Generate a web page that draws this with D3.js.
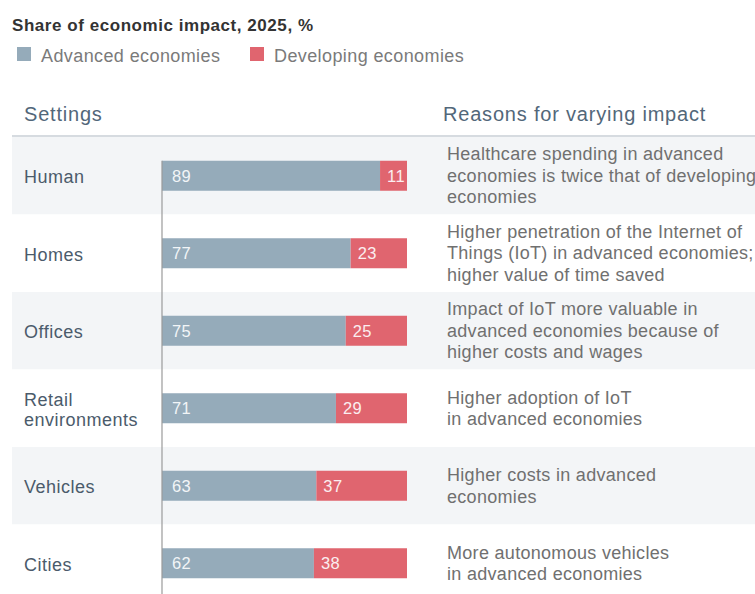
<!DOCTYPE html>
<html>
<head>
<meta charset="utf-8">
<script src="https://cdn.jsdelivr.net/npm/d3@7"></script>
<style>
  html, body { margin: 0; padding: 0; background: #ffffff; }
  svg { display: block; font-family: "Liberation Sans", Arial, Helvetica, sans-serif; }
</style>
</head>
<body>
<svg id="chart" width="755" height="594"></svg>
<script>
// Settings shown as rows (multi-line labels split by "|")
const settings = ["Human", "Homes", "Offices", "Retail|environments", "Vehicles", "Cities"];
// Share of economic impact in 2025, %
const advanced = [89, 77, 75, 71, 63, 62];
const developing = [11, 23, 25, 29, 37, 38];
// Explanation for each setting (lines split by "|")
const reasons = [
  "Healthcare spending in advanced|economies is twice that of developing|economies",
  "Higher penetration of the Internet of|Things (IoT) in advanced economies;|higher value of time saved",
  "Impact of IoT more valuable in|advanced economies because of|higher costs and wages",
  "Higher adoption of IoT|in advanced economies",
  "Higher costs in advanced|economies",
  "More autonomous vehicles|in advanced economies"
];
const seriesNames = ["Advanced economies", "Developing economies"];
const colors = ["#95abba", "#e0656f"];

const W = 755;
const svg = d3.select("#chart");

// Scales
const y = d3.scaleBand().domain(settings).range([137, 602]).padding(0);
const x = d3.scaleLinear().domain([0, 100]).range([162, 407]);
const barH = 30;

// Title
svg.append("text")
  .attr("x", 12).attr("y", 30.5)
  .attr("font-size", 17).attr("font-weight", "bold")
  .attr("letter-spacing", 0.55)
  .attr("fill", "#333333")
  .text("Share of economic impact, 2025, %");

// Legend
const legendX = [17, 250];
seriesNames.forEach((name, i) => {
  svg.append("rect")
    .attr("x", legendX[i]).attr("y", 47)
    .attr("width", 14).attr("height", 14)
    .attr("fill", colors[i]);
  svg.append("text")
    .attr("x", legendX[i] + 24).attr("y", 61.5)
    .attr("font-size", 18).attr("letter-spacing", 0.4)
    .attr("fill", "#7a7a7a")
    .text(name);
});

// Column headers
svg.append("text")
  .attr("x", 24).attr("y", 120.5)
  .attr("font-size", 20).attr("letter-spacing", 0.8)
  .attr("fill", "#52677a")
  .text("Settings");
svg.append("text")
  .attr("x", 443).attr("y", 120.5)
  .attr("font-size", 20).attr("letter-spacing", 0.8)
  .attr("fill", "#52677a")
  .text("Reasons for varying impact");

// Alternating row bands
svg.append("g").selectAll("rect")
  .data(settings)
  .join("rect")
  .attr("x", 12)
  .attr("y", d => y(d))
  .attr("width", W - 12)
  .attr("height", y.bandwidth())
  .attr("fill", (d, i) => i % 2 === 0 ? "#f3f5f7" : "#ffffff");

// Header rule
svg.append("line")
  .attr("x1", 12).attr("x2", W)
  .attr("y1", 136).attr("y2", 136)
  .attr("stroke", "#d6dbe0").attr("stroke-width", 2);

// Category labels
const labelG = svg.append("g");
settings.forEach(s => {
  const lines = s.split("|");
  const cy = y(s) + y.bandwidth() / 2;
  const lh = 19.5;
  const t = labelG.append("text")
    .attr("font-size", 18).attr("letter-spacing", 0.5)
    .attr("fill", "#4b5b6b");
  lines.forEach((ln, j) => {
    t.append("tspan")
      .attr("x", 24)
      .attr("y", cy + 7.5 + (j - (lines.length - 1) / 2) * lh)
      .text(ln);
  });
});

// Stacked bars
const rows = settings.map((s, i) => ({ s, a: advanced[i], d: developing[i] }));
const barG = svg.append("g");
rows.forEach(r => {
  const top = y(r.s) + (y.bandwidth() - barH) / 2;
  barG.append("rect")
    .attr("x", x(0)).attr("y", top)
    .attr("width", x(r.a) - x(0)).attr("height", barH)
    .attr("fill", colors[0]);
  barG.append("rect")
    .attr("x", x(r.a)).attr("y", top)
    .attr("width", x(r.a + r.d) - x(r.a)).attr("height", barH)
    .attr("fill", colors[1]);
  barG.append("text")
    .attr("x", x(0) + 10).attr("y", top + barH / 2 + 6)
    .attr("font-size", 16.5).attr("letter-spacing", 0.4)
    .attr("fill", "#f2f5f7")
    .text(r.a);
  barG.append("text")
    .attr("x", x(r.a) + 7).attr("y", top + barH / 2 + 6)
    .attr("font-size", 16.5).attr("letter-spacing", 0.4)
    .attr("fill", "#fbeef0")
    .text(r.d);
});

// Baseline axis at zero
const firstTop = y(settings[0]) + (y.bandwidth() - barH) / 2;
svg.append("line")
  .attr("x1", x(0)).attr("x2", x(0))
  .attr("y1", firstTop).attr("y2", 594)
  .attr("stroke", "#9a9a9a").attr("stroke-width", 1.2);

// Reasons column
const reasonG = svg.append("g");
settings.forEach((s, i) => {
  const lines = reasons[i].split("|");
  const cy = y(s) + y.bandwidth() / 2;
  const lh = 21.5;
  const t = reasonG.append("text")
    .attr("font-size", 18).attr("letter-spacing", 0.3)
    .attr("fill", "#707070");
  lines.forEach((ln, j) => {
    t.append("tspan")
      .attr("x", 447)
      .attr("y", cy + 6 + (j - (lines.length - 1) / 2) * lh)
      .text(ln);
  });
});
</script>
</body>
</html>
